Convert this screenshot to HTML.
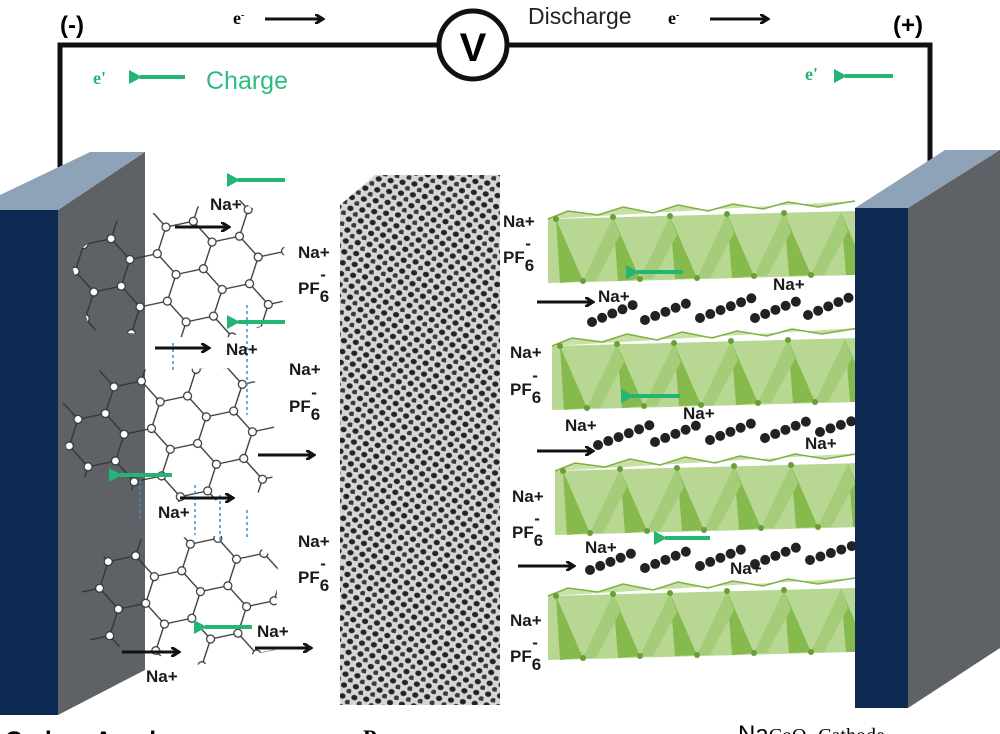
<!DOCTYPE html>
<html><head><meta charset="utf-8"><style>
html,body{margin:0;padding:0;background:#fff;}
svg{display:block}
text{font-family:"Liberation Sans",sans-serif;}
.l{font-size:17px;fill:#1a1a1a;font-weight:bold;}
</style></head><body>
<svg width="1000" height="734" viewBox="0 0 1000 734" xmlns="http://www.w3.org/2000/svg">
<defs>
<marker id="ab" markerWidth="10" markerHeight="10" refX="7" refY="5" orient="auto" markerUnits="userSpaceOnUse"><path d="M0,0 L8,5 L0,10" fill="none" stroke="#111" stroke-width="3"/></marker>
<marker id="ag" markerWidth="14" markerHeight="14" refX="2" refY="7" orient="auto" markerUnits="userSpaceOnUse"><path d="M0,7 L13,0 L13,14 Z" fill="#22b573"/></marker>
<pattern id="hex" width="84" height="48.5" patternUnits="userSpaceOnUse" patternTransform="translate(60,200) rotate(-12)">
<path d="M0,24.25 L14,0 L42,0 L56,24.25 L42,48.5 L14,48.5 Z M56,24.25 L84,24.25" fill="none" stroke="#333" stroke-width="1.3"/>
<g fill="#fff" stroke="#333" stroke-width="1.2"><circle cx="14" cy="0" r="4"/><circle cx="42" cy="0" r="4"/><circle cx="56" cy="24.25" r="4"/><circle cx="42" cy="48.5" r="4"/><circle cx="14" cy="48.5" r="4"/><circle cx="0" cy="24.25" r="4"/><circle cx="84" cy="24.25" r="4"/></g>
</pattern>
<pattern id="pore" width="12" height="11" patternUnits="userSpaceOnUse" patternTransform="rotate(8)">
<rect width="12" height="11" fill="#d6d6d6"/>
<ellipse cx="4" cy="3.5" rx="3.1" ry="2.7" fill="#252525"/>
<ellipse cx="10" cy="9" rx="2.9" ry="2.5" fill="#3a3a3a"/>
</pattern>
<g id="band">
<polygon points="0,14 307,6 307,70 0,78" fill="#b8d793"/>
<polyline points="0,14 20,6 50,10 75,2 105,8 130,0 160,6 185,-1 215,4 240,-3 270,2 307,-4" fill="#c6e0a6" stroke="#7fb043" stroke-width="1.5"/>
<polygon points="8,14 35,76 12,78" fill="#86ba4c"/>
<polygon points="65,12 92,74 70,76" fill="#86ba4c"/>
<polygon points="122,11 149,73 127,74" fill="#86ba4c"/>
<polygon points="179,9 206,71 184,73" fill="#86ba4c"/>
<polygon points="236,8 263,70 241,71" fill="#86ba4c"/>
<polygon points="293,7 307,40 307,70 298,70" fill="#86ba4c"/>
<polygon points="35,76 65,12 72,30 48,76" fill="#a5cc78"/>
<polygon points="92,74 122,11 129,30 105,74" fill="#a5cc78"/>
<polygon points="149,73 179,9 186,28 162,73" fill="#a5cc78"/>
<polygon points="206,71 236,8 243,27 219,71" fill="#a5cc78"/>
<polygon points="263,70 293,7 300,26 276,70" fill="#a5cc78"/>
<g fill="#6a9e36"><circle cx="8" cy="14" r="3"/><circle cx="65" cy="12" r="3"/><circle cx="122" cy="11" r="3"/><circle cx="179" cy="9" r="3"/><circle cx="236" cy="8" r="3"/><circle cx="35" cy="76" r="3"/><circle cx="92" cy="74" r="3"/><circle cx="149" cy="73" r="3"/><circle cx="206" cy="71" r="3"/><circle cx="263" cy="70" r="3"/></g>
</g>
</defs>

<path d="M60,185 V45 H930 V182" fill="none" stroke="#111" stroke-width="5"/>
<circle cx="473" cy="45" r="34" fill="#fff" stroke="#111" stroke-width="5"/>
<text x="473" y="61" text-anchor="middle" style="font-size:40px;font-weight:bold">V</text>
<text x="60" y="33" style="font-size:24px;font-weight:bold">(-)</text>
<text x="893" y="33" style="font-size:24px;font-weight:bold">(+)</text>
<text x="233" y="24" style="font-family:'Liberation Serif',serif;font-size:18px;font-weight:bold">e<tspan dy="-6" font-size="10">-</tspan></text>
<line x1="265" y1="19" x2="322" y2="19" stroke="#111" stroke-width="3" marker-end="url(#ab)"/>
<text x="528" y="24" style="font-size:23px;fill:#222">Discharge</text>
<text x="668" y="24" style="font-family:'Liberation Serif',serif;font-size:18px;font-weight:bold">e<tspan dy="-6" font-size="10">-</tspan></text>
<line x1="710" y1="19" x2="767" y2="19" stroke="#111" stroke-width="3" marker-end="url(#ab)"/>
<text x="93" y="84" style="font-family:'Liberation Serif',serif;font-size:18px;font-weight:bold;fill:#22b573">e'</text>
<line x1="185" y1="77" x2="140" y2="77" stroke="#22b573" stroke-width="4" marker-end="url(#ag)"/>
<text x="206" y="89" style="font-size:25px;fill:#2ebd7f">Charge</text>
<text x="805" y="80" style="font-family:'Liberation Serif',serif;font-size:18px;font-weight:bold;fill:#22b573">e'</text>
<line x1="893" y1="76" x2="845" y2="76" stroke="#22b573" stroke-width="4" marker-end="url(#ag)"/>

<polygon points="0,210 58,210 145,152 90,152 0,195" fill="#8fa3b8"/>
<polygon points="58,210 145,152 145,670 58,715" fill="#5e6166"/>
<rect x="0" y="210" width="58" height="505" fill="#0e2a52"/>

<polygon points="340,205 375,175 500,175 500,705 340,705" fill="url(#pore)"/>

<polygon points="70,258 120,218 240,200 285,230 282,320 220,340 90,330" fill="url(#hex)"/>
<polygon points="55,410 100,370 240,368 275,400 272,490 190,505 75,475" fill="url(#hex)"/>
<polygon points="80,580 120,540 240,535 278,560 275,650 200,665 90,640" fill="url(#hex)"/>
<g stroke="#3b8fd0" stroke-width="1.5" stroke-dasharray="3,3">
<line x1="173" y1="343" x2="173" y2="372"/><line x1="247" y1="305" x2="247" y2="415"/>
<line x1="140" y1="480" x2="140" y2="520"/><line x1="195" y1="485" x2="195" y2="535"/><line x1="220" y1="495" x2="220" y2="540"/><line x1="247" y1="510" x2="247" y2="540"/>
</g>

<use href="#band" transform="translate(548,205)"/>
<use href="#band" transform="translate(552,332)"/>
<use href="#band" transform="translate(555,457)"/>
<use href="#band" transform="translate(548,582)"/>

<g stroke="#222" stroke-width="10" stroke-linecap="round" stroke-dasharray="0,11">
<path d="M592,322 L640,302 M645,320 L695,300 M700,318 L752,298 M755,318 L805,298 M808,315 L855,295"/>
<path d="M598,445 L650,425 M655,442 L705,422 M710,440 L760,420 M765,438 L815,418 M820,432 L855,420"/>
<path d="M590,570 L640,550 M645,568 L695,548 M700,566 L750,546 M755,564 L805,544 M810,560 L855,545"/>
</g>

<polygon points="855,208 908,208 1000,150 945,150" fill="#8fa3b8"/>
<polygon points="908,208 1000,150 1000,648 908,708" fill="#5e6166"/>
<rect x="855" y="208" width="53" height="500" fill="#0e2a52"/>

<g stroke="#111" stroke-width="3" marker-end="url(#ab)">
<line x1="175" y1="227" x2="228" y2="227"/>
<line x1="155" y1="348" x2="208" y2="348"/>
<line x1="258" y1="455" x2="313" y2="455"/>
<line x1="180" y1="498" x2="232" y2="498"/>
<line x1="122" y1="652" x2="178" y2="652"/>
<line x1="255" y1="648" x2="310" y2="648"/>
<line x1="537" y1="302" x2="592" y2="302"/>
<line x1="537" y1="451" x2="592" y2="451"/>
<line x1="518" y1="566" x2="573" y2="566"/>
</g>
<g stroke="#22b573" stroke-width="4" marker-end="url(#ag)">
<line x1="285" y1="180" x2="238" y2="180"/>
<line x1="285" y1="322" x2="238" y2="322"/>
<line x1="172" y1="475" x2="120" y2="475"/>
<line x1="252" y1="627" x2="205" y2="627"/>
<line x1="683" y1="272" x2="637" y2="272"/>
<line x1="680" y1="396" x2="632" y2="396"/>
<line x1="710" y1="538" x2="665" y2="538"/>
</g>

<g class="l">
<text x="210" y="210">Na+</text>
<text x="226" y="355">Na+</text>
<text x="158" y="518">Na+</text>
<text x="257" y="637">Na+</text>
<text x="146" y="682">Na+</text>
<text x="598" y="302">Na+</text>
<text x="773" y="290">Na+</text>
<text x="565" y="431">Na+</text>
<text x="683" y="419">Na+</text>
<text x="805" y="449">Na+</text>
<text x="585" y="553">Na+</text>
<text x="730" y="574">Na+</text>
<text x="298" y="258">Na+</text><text x="298" y="294">PF<tspan dy="8">6</tspan><tspan dx="-9" dy="-22">-</tspan></text>
<text x="289" y="375">Na+</text><text x="289" y="412">PF<tspan dy="8">6</tspan><tspan dx="-9" dy="-22">-</tspan></text>
<text x="298" y="547">Na+</text><text x="298" y="583">PF<tspan dy="8">6</tspan><tspan dx="-9" dy="-22">-</tspan></text>
<text x="503" y="227">Na+</text><text x="503" y="263">PF<tspan dy="8">6</tspan><tspan dx="-9" dy="-22">-</tspan></text>
<text x="510" y="358">Na+</text><text x="510" y="395">PF<tspan dy="8">6</tspan><tspan dx="-9" dy="-22">-</tspan></text>
<text x="512" y="502">Na+</text><text x="512" y="538">PF<tspan dy="8">6</tspan><tspan dx="-9" dy="-22">-</tspan></text>
<text x="510" y="626">Na+</text><text x="510" y="662">PF<tspan dy="8">6</tspan><tspan dx="-9" dy="-22">-</tspan></text>
</g>

<text x="5" y="748" style="font-size:24px;font-weight:bold">Carbon Anode</text>
<text x="363" y="745" style="font-family:'Liberation Serif',serif;font-size:22px;font-weight:bold">Porous</text>
<text x="738" y="742" style="font-size:24px;">Na<tspan style="font-family:'Liberation Serif',serif;font-size:20px">CoO</tspan><tspan font-size="12" dy="4">2</tspan><tspan dy="-4" style="font-family:'Liberation Serif',serif;font-size:20px"> Cathode</tspan></text>
</svg>
</body></html>
